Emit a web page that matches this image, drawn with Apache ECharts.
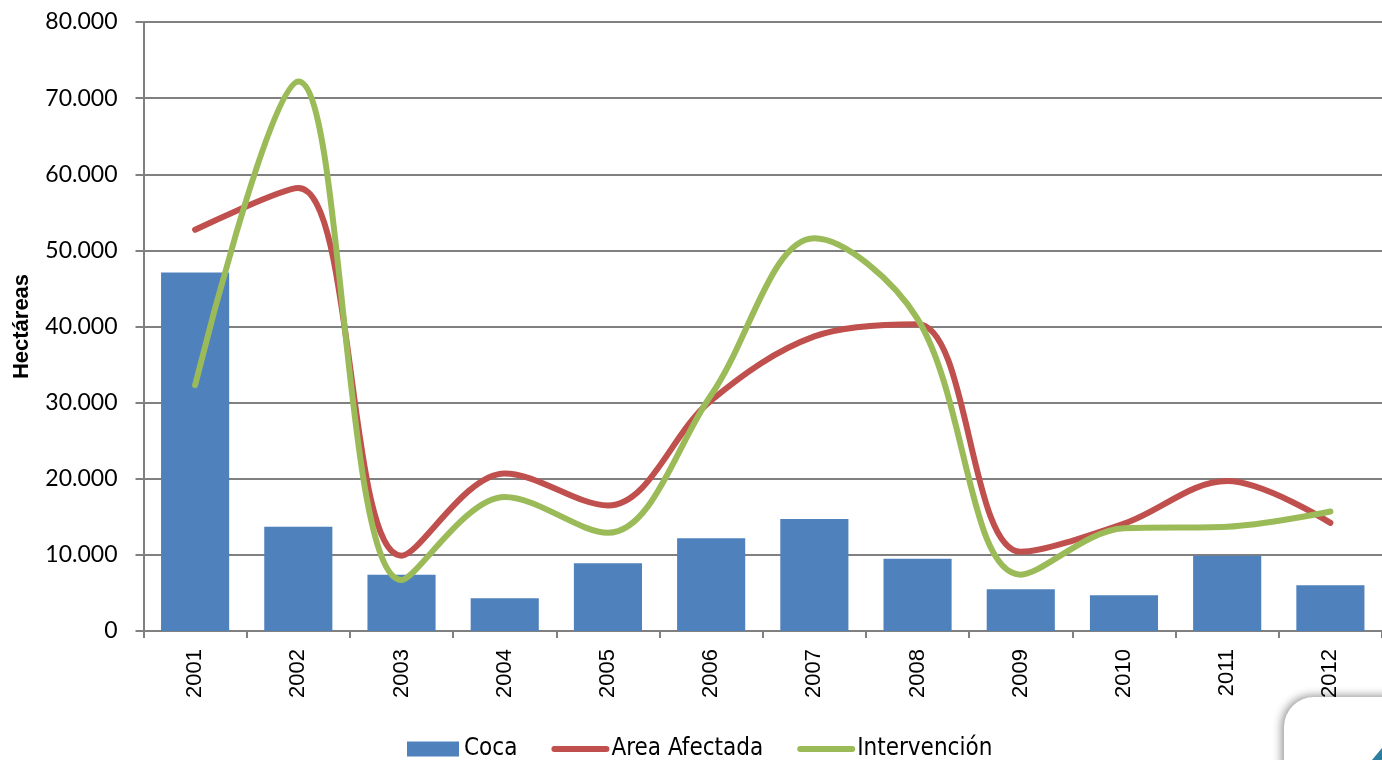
<!DOCTYPE html>
<html>
<head>
<meta charset="utf-8">
<script src="https://cdn.jsdelivr.net/npm/echarts@6/dist/echarts.min.js"></script>
<style>
html,body{margin:0;padding:0;background:#fff;}
#chart{width:1382px;height:760px;}
</style>
</head>
<body>
<div id="chart"></div>
<script>
const years = ['2001','2002','2003','2004','2005','2006','2007','2008','2009','2010','2011','2012'];
const coca = [47100, 13700, 7400, 4300, 8900, 12200, 14700, 9500, 5500, 4700, 9900, 6000];
const areaAfectada = [52700, 58200, 9900, 20700, 16500, 30300, 38700, 40300, 10400, 14100, 19700, 14200];
const intervencion = [32300, 72200, 6700, 17600, 12900, 31000, 51600, 41000, 7400, 13500, 13700, 15700];
const yTicksMax = 80000;
const yTickStep = 10000;
const yAxisTitle = 'Hectáreas';
const seriesNames = ['Coca', 'Area Afectada', 'Intervención'];

const grey = '#808080';
const chart = echarts.init(document.getElementById('chart'), null, {renderer: 'canvas'});
chart.setOption({
  animation: false,
  backgroundColor: '#ffffff',
  grid: {left: 143.5, top: 22, width: 1245, height: 609, containLabel: false},
  legend: {
    left: 402, top: 732,
    itemWidth: 52, itemHeight: 15, itemGap: 34,
    textStyle: {fontFamily: '"Liberation Sans Narrow","DejaVu Sans Condensed","Liberation Sans",sans-serif', fontSize: 24, color: '#000'},
    data: [
      {name: seriesNames[0], icon: 'rect'},
      {name: seriesNames[1], itemStyle: {color: 'rgba(0,0,0,0)', borderWidth: 0}, lineStyle: {width: 6, cap: 'round'}},
      {name: seriesNames[2], itemStyle: {color: 'rgba(0,0,0,0)', borderWidth: 0}, lineStyle: {width: 6, cap: 'round'}}
    ]
  },
  xAxis: {
    type: 'category',
    data: years,
    boundaryGap: true,
    axisLine: {lineStyle: {color: grey, width: 2}},
    axisTick: {show: true, length: 7, lineStyle: {color: grey, width: 2}},
    axisLabel: {rotate: 90, margin: 18, fontSize: 22, color: '#000', fontFamily: '"Liberation Sans",Arial,sans-serif'},
    splitLine: {show: false}
  },
  yAxis: {
    type: 'value',
    min: 0, max: yTicksMax, interval: yTickStep,
    name: yAxisTitle,
    nameLocation: 'middle',
    nameGap: 111,
    nameRotate: 90,
    nameTextStyle: {fontSize: 22, fontWeight: 'bold', color: '#000', fontFamily: '"Liberation Sans",Arial,sans-serif'},
    axisLine: {show: true, lineStyle: {color: grey, width: 2}},
    axisTick: {show: true, length: 8, lineStyle: {color: grey, width: 2}},
    axisLabel: {
      margin: 26, fontSize: 23, color: '#000', fontFamily: 'Lato,"Liberation Sans",sans-serif',
      formatter: v => v === 0 ? '0' : (v / 1000) + '.000'
    },
    splitLine: {show: true, lineStyle: {color: grey, width: 2}}
  },
  series: [
    {
      name: seriesNames[0], type: 'bar', data: coca,
      barCategoryGap: '34%',
      itemStyle: {color: '#4F81BD'}
    },
    {
      name: seriesNames[1], type: 'line', data: areaAfectada,
      smooth: 0.35, symbol: 'none',
      lineStyle: {color: '#C0504D', width: 6, cap: 'round'},
      itemStyle: {color: '#C0504D'}
    },
    {
      name: seriesNames[2], type: 'line', data: intervencion,
      smooth: 0.35, symbol: 'none',
      lineStyle: {color: '#9BBB59', width: 6, cap: 'round'},
      itemStyle: {color: '#9BBB59'}
    }
  ],
  graphic: [
    {
      type: 'rect', left: 1284, top: 697, z: 100,
      shape: {width: 160, height: 120, r: 30},
      style: {fill: '#ffffff', shadowBlur: 10, shadowColor: 'rgba(0,0,0,0.45)', shadowOffsetX: -2, shadowOffsetY: -1}
    },
    {
      type: 'polygon', z: 101,
      shape: {points: [[1372, 760], [1382, 748], [1382, 760]]},
      style: {fill: '#2a7f9e'}
    }
  ]
});
</script>
</body>
</html>
